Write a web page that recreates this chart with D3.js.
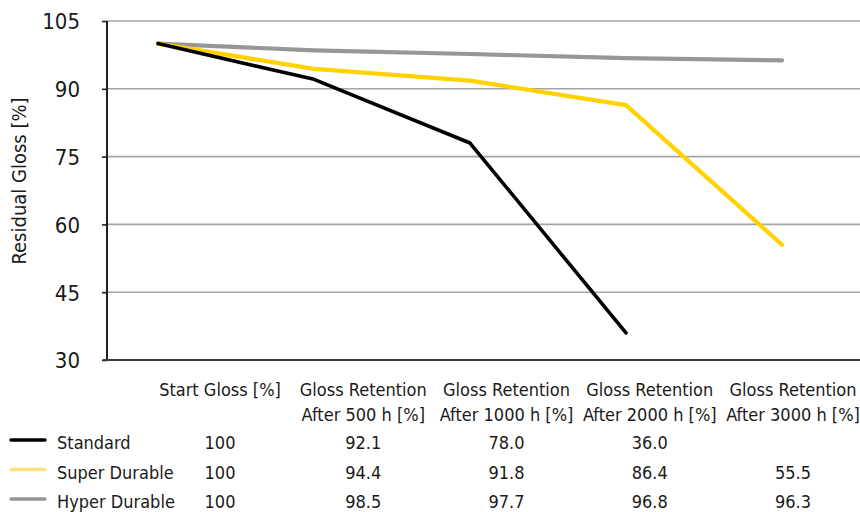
<!DOCTYPE html>
<html>
<head>
<meta charset="utf-8">
<script src="https://cdn.jsdelivr.net/npm/d3@7"></script>
<style>
  body { margin: 0; background: #fff; }
  svg text { font-family: "Liberation Sans Narrow", "Arial Narrow", "DejaVu Sans Condensed", sans-serif; fill: #1a1a1a; }
</style>
</head>
<body>
<svg id="chart" width="860" height="512"></svg>
<script>
// categories (two header lines each)
var categories = ["Start", "500 h", "1000 h", "2000 h", "3000 h"];
var headerLines = [
  ["Start Gloss [%]"],
  ["Gloss Retention", "After 500 h [%]"],
  ["Gloss Retention", "After 1000 h [%]"],
  ["Gloss Retention", "After 2000 h [%]"],
  ["Gloss Retention", "After 3000 h [%]"]
];
var seriesNames = ["Standard", "Super Durable", "Hyper Durable"];
var standard = [100, 92.1, 78.0, 36.0, null];
var superDurable = [100, 94.4, 91.8, 86.4, 55.5];
var hyperDurable = [100, 98.5, 97.7, 96.8, 96.3];
var yTicks = [30, 45, 60, 75, 90, 105];

var lineColors = ["#000000", "#ffd200", "#97979a"];
var legendColors = ["#000000", "#ffe27a", "#97979a"];

var svg = d3.select("#chart");
var plotLeft = 107, plotRight = 860, plotTop = 21, plotBottom = 360;

var x = d3.scalePoint().domain(categories).range([158, 782]);
var y = d3.scaleLinear().domain([30, 105]).range([plotBottom, plotTop]);
var col = d3.scalePoint().domain(categories).range([220, 793]);

// gridlines
svg.append("g")
  .selectAll("line")
  .data(yTicks.filter(function (d) { return d > 30; }))
  .join("line")
  .attr("x1", plotLeft).attr("x2", plotRight)
  .attr("y1", function (d) { return y(d); })
  .attr("y2", function (d) { return y(d); })
  .attr("stroke", "#a3a3a5")
  .attr("stroke-width", 1.6);

// y axis
var yAxis = svg.append("g")
  .attr("transform", "translate(" + plotLeft + ",0)")
  .call(d3.axisLeft(y).tickValues(yTicks).tickSize(5).tickPadding(22).tickFormat(d3.format("d")));
yAxis.select(".domain").attr("stroke", "#231f20").attr("stroke-width", 2).attr("d", "M0," + plotTop + "V" + plotBottom);
yAxis.selectAll(".tick line").attr("stroke", "#231f20").attr("stroke-width", 1.6);
yAxis.selectAll(".tick text").attr("font-size", 22).attr("dy", "0.36em");

// bottom line
svg.append("line")
  .attr("x1", plotLeft - 4).attr("x2", plotRight)
  .attr("y1", plotBottom).attr("y2", plotBottom)
  .attr("stroke", "#3a3a3c").attr("stroke-width", 2);

// y title
svg.append("text")
  .attr("transform", "translate(26,181) rotate(-90)")
  .attr("text-anchor", "middle")
  .attr("font-size", 20)
  .text("Residual Gloss [%]");

// lines
var allSeries = [standard, superDurable, hyperDurable];
var line = d3.line()
  .defined(function (d) { return d != null; })
  .x(function (d, i) { return x(categories[i]); })
  .y(function (d) { return y(d); });

[2, 1, 0].forEach(function (s) {
  svg.append("path")
    .datum(allSeries[s])
    .attr("d", line)
    .attr("fill", "none")
    .attr("stroke", lineColors[s])
    .attr("stroke-width", s === 0 ? 3.6 : 4.2)
    .attr("stroke-linecap", "round")
    .attr("stroke-linejoin", "round");
});

// table header
var header = svg.append("g");
categories.forEach(function (c, i) {
  var t = header.append("text")
    .attr("text-anchor", "middle")
    .attr("font-size", 18)
    .attr("x", col(c));
  headerLines[i].forEach(function (ln, j) {
    t.append("tspan").attr("x", col(c)).attr("y", 396 + j * 25).text(ln);
  });
});

// table rows
var rowY = [449, 478.5, 508];
allSeries.forEach(function (vals, s) {
  var g = svg.append("g");
  g.append("line")
    .attr("x1", 11).attr("x2", 45)
    .attr("y1", rowY[s] - 9).attr("y2", rowY[s] - 9)
    .attr("stroke", legendColors[s])
    .attr("stroke-width", 3.4)
    .attr("stroke-linecap", "round");
  g.append("text")
    .attr("x", 57).attr("y", rowY[s])
    .attr("font-size", 18)
    .text(seriesNames[s]);
  vals.forEach(function (v, i) {
    if (v == null) return;
    g.append("text")
      .attr("x", col(categories[i])).attr("y", rowY[s])
      .attr("text-anchor", "middle")
      .attr("font-size", 18)
      .text(i === 0 ? d3.format("d")(v) : d3.format(".1f")(v));
  });
});
</script>
</body>
</html>
